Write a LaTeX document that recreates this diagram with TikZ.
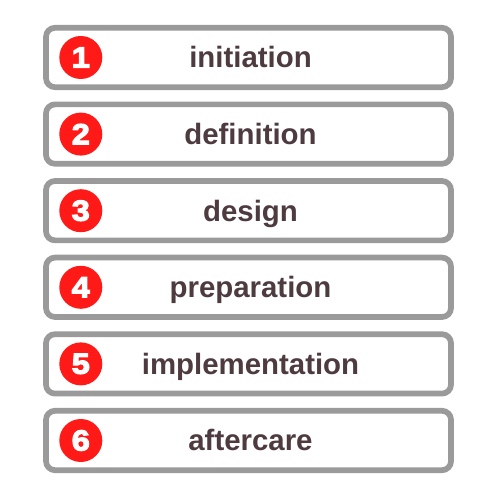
\documentclass[tikz,border=0pt]{standalone}
\usepackage{fontspec}
\setmainfont{Liberation Sans}
\newfontfamily\numfont{Liberation Sans}[BoldFeatures={FakeBold=4,FakeStretch=1.12}]
\definecolor{boxgray}{HTML}{9A9A9A}
\definecolor{numred}{HTML}{FF1A17}
\definecolor{txt}{HTML}{4E3B3F}
\begin{document}
\begin{tikzpicture}[x=1pt,y=1pt,
  stagebox/.style={draw=boxgray,line width=5.7pt,rounded corners=9pt,fill=white,
    minimum width=405pt,minimum height=59.4pt,inner sep=0pt},
  numdot/.style={circle,fill=numred,minimum size=43pt,inner sep=0pt,
    text=white,font=\numfont\bfseries\fontsize{29}{29}\selectfont},
  stagetext/.style={text=txt,font=\fontsize{29.4}{30}\selectfont\bfseries,inner sep=0pt}]
\useasboundingbox (0,0) rectangle (500,500);
\fill[white] (0,0) rectangle (500,500);
\foreach \i/\t in {1/initiation,2/definition,3/design,4/preparation,5/implementation,6/aftercare}{
  \pgfmathsetmacro{\yy}{500-57.5-76.6*(\i-1)}
  \node[stagebox] (box\i) at (248.5,\yy) {};
  \node[numdot] (num\i) at (80.8,\yy) {\i};
  \node[stagetext,anchor=base] (lab\i) at (250.5,\yy-10.5) {\t};
}
\end{tikzpicture}
\end{document}
